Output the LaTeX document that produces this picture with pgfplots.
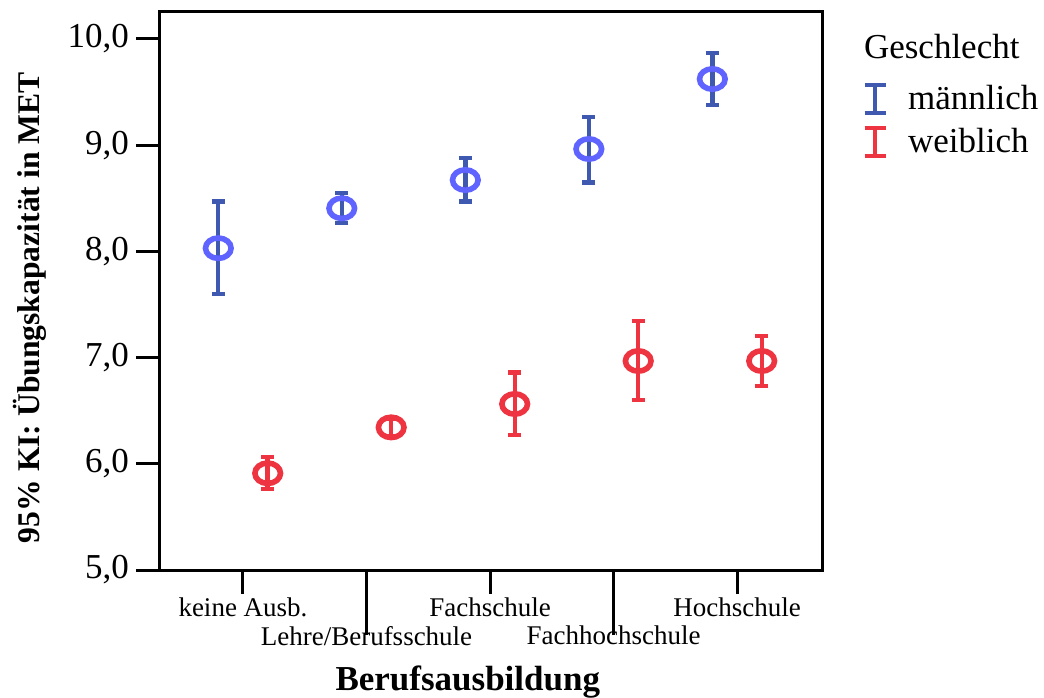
\documentclass[border=0pt]{standalone}
\usepackage{fontspec}
\setmainfont{Liberation Serif}
\usepackage{pgfplots}
\pgfplotsset{compat=1.18}
\definecolor{mbar}{HTML}{3F58B0}
\definecolor{mcirc}{HTML}{5F63FF}
\definecolor{wred}{HTML}{EE3440}
\pgfdeclareplotmark{ellO}{%
  \pgfpathellipse{\pgfpointorigin}{\pgfqpoint{6.4pt}{0pt}}{\pgfqpoint{0pt}{5.1pt}}%
  \pgfusepathqstroke}
\pgfplotstableread{
x y ep em
0.8 8.03 0.438 0.434
1.8 8.406 0.141 0.136
2.8 8.672 0.207 0.201
3.8 8.964 0.302 0.314
4.8 9.623 0.245 0.244
}\maennlich
\pgfplotstableread{
x y ep em
1.2 5.911 0.153 0.151
2.2 6.343 0.085 0.085
3.2 6.563 0.295 0.292
4.2 6.968 0.377 0.370
5.2 6.968 0.238 0.233
}\weiblich
\begin{document}
\begin{tikzpicture}
\useasboundingbox (0,0) rectangle (522pt,348.5pt);
\begin{axis}[
  at={(80pt,63.5pt)}, anchor=south west,
  scale only axis, width=331pt, height=279pt,
  xmin=0.328, xmax=5.688, ymin=5, ymax=10.254,
  axis line style={line width=1.5pt},
  tick align=outside, xtick pos=lower, ytick pos=left,
  major tick length=12pt,
  tick style={line width=1.5pt, black},
  xtick={1,3,5}, xticklabels={keine Ausb., Fachschule, Hochschule},
  extra x ticks={2,4}, extra x tick labels={Lehre/Berufsschule, Fachhochschule},
  extra x tick style={major tick length=32.5pt, xticklabel style={yshift=6.5pt}},
  xticklabel style={font=\fontsize{13.5}{14}\selectfont, anchor=north, yshift=1.5pt},
  ytick={5,6,7,8,9,10},
  yticklabel style={font=\fontsize{17.5}{19}\selectfont},
  /pgf/number format/.cd, fixed, fixed zerofill, precision=1, use comma, assume math mode=true,
  /pgfplots/.cd,
  xlabel={\textbf{Berufsausbildung}},
  xlabel style={font=\fontsize{17.5}{20}\selectfont, at={(axis description cs:0.465,-0.2)}, anchor=center},
  ylabel={\textbf{95\% KI: Übungskapazität in MET}},
  ylabel style={font=\fontsize{15.8}{18}\selectfont, at={(axis description cs:-0.196,0.47)}, anchor=center},
  legend style={at={(axis description cs:1.052,0.976)}, anchor=north west, draw=none, fill=none,
    font=\fontsize{17.5}{20}\selectfont, row sep=4pt},
  legend cell align=left,
]
\addlegendimage{empty legend}
\addlegendentry{\hspace*{-22pt}\raisebox{4pt}{Geschlecht}}
\addlegendimage{legend image code/.code={
  \draw[mbar, line width=1.8pt] (4.75pt,-7pt) -- (4.75pt,7pt);
  \draw[mbar, line width=1.8pt] (-0.5pt,7pt) -- (10pt,7pt);
  \draw[mbar, line width=1.8pt] (-0.5pt,-7pt) -- (10pt,-7pt);
  \path (19pt,0pt);}}
\addlegendentry{männlich}
\addlegendimage{legend image code/.code={
  \draw[wred, line width=1.8pt] (4.75pt,-7pt) -- (4.75pt,7pt);
  \draw[wred, line width=1.8pt] (-0.5pt,7pt) -- (10pt,7pt);
  \draw[wred, line width=1.8pt] (-0.5pt,-7pt) -- (10pt,-7pt);
  \path (19pt,0pt);}}
\addlegendentry{weiblich}
\addplot[only marks, mark=ellO,
  mark options={draw=mcirc, line width=2.8pt},
  error bars/.cd, y dir=both, y explicit, error mark=-,
  error mark options={mbar, line width=2.2pt, mark size=3.3pt, rotate=90},
  error bar style={mbar, line width=2.2pt}]
  table[x=x, y=y, y error plus=ep, y error minus=em] {\maennlich};
\addplot[only marks, mark=ellO,
  mark options={draw=wred, line width=2.8pt},
  error bars/.cd, y dir=both, y explicit, error mark=-,
  error mark options={wred, line width=2.2pt, mark size=3.3pt, rotate=90},
  error bar style={wred, line width=2.2pt}]
  table[x=x, y=y, y error plus=ep, y error minus=em] {\weiblich};
\end{axis}
\end{tikzpicture}
\end{document}
